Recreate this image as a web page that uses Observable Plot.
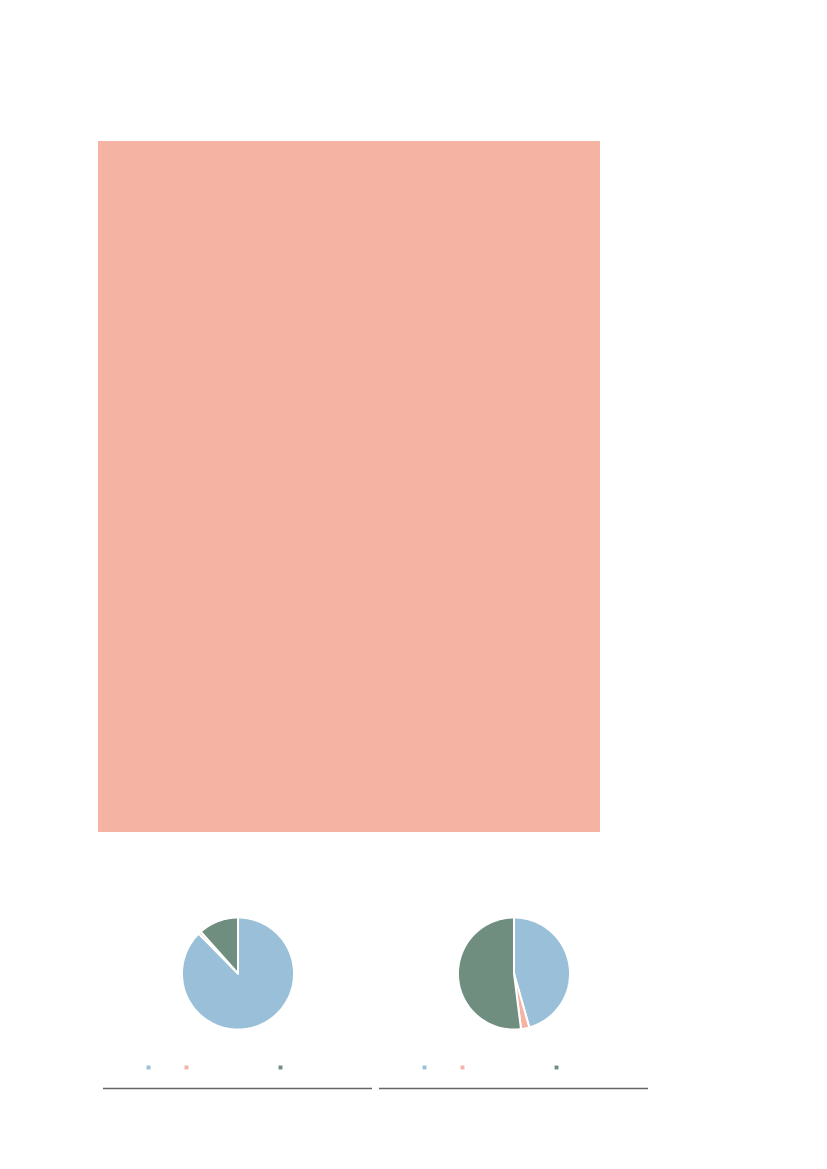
<!DOCTYPE html>
<html><head><meta charset="utf-8">
<script src="https://cdn.jsdelivr.net/npm/d3@7"></script>
<script src="https://cdn.jsdelivr.net/npm/@observablehq/plot@0.6"></script>
<style>
body{margin:0;background:#fff;width:827px;height:1169px;position:relative;overflow:hidden;font-family:"Liberation Sans",sans-serif}
.abs{position:absolute}
</style></head><body>
<div id="big" class="abs" style="left:98px;top:141px"></div>
<div id="pie1" class="abs" style="left:103px;top:913px"></div>
<div id="pie2" class="abs" style="left:379px;top:913px"></div>
<script>
const categories = ["A", "B", "C"];
const colors = ["#99c0d8", "#f5b3a4", "#6f8e80"];
const pie1Values = [87.6, 0.8, 11.6];
const pie2Values = [45.6, 2.4, 52.0];
const bigCategory = ["Total"];
const bigValue = [100];

// Big block
const big = Plot.plot({
  width: 502, height: 691, margin: 0,
  x: {domain: bigCategory, axis: null, padding: 0},
  y: {domain: [0, 100], axis: null},
  marks: [Plot.barY(bigCategory.map((c, i) => ({c, v: bigValue[i]})), {x: "c", y: "v", fill: "#f5b3a4", inset: 0})]
});
document.getElementById("big").append(big);

function pieData(values) {
  const arcs = d3.pie().sort(null)(values);
  const pts = [];
  arcs.forEach((a, i) => {
    const cat = categories[i];
    pts.push({cat, x: 0, y: 0});
    const n = Math.max(2, Math.ceil((a.endAngle - a.startAngle) / (Math.PI / 180)));
    for (let k = 0; k <= n; k++) {
      const t = a.startAngle + (a.endAngle - a.startAngle) * k / n;
      pts.push({cat, x: Math.sin(t), y: Math.cos(t)});
    }
    pts.push({cat, x: 0, y: 0});
  });
  return pts;
}

const legendX = [-1.598, -0.920, 0.759];
function piePlot(values) {
  const W = 269, H = 177, R = 56;
  const cx = 134.5, cy = 60;
  return Plot.plot({
    width: W, height: H, margin: 0,
    x: {domain: [-cx / R, (W - cx) / R], axis: null},
    y: {domain: [-(H - cy) / R, cy / R], axis: null},
    color: {domain: categories, range: colors},
    marks: [
      Plot.line(pieData(values), {x: "x", y: "y", z: "cat", fill: "cat", stroke: "white", strokeWidth: 2, strokeLinejoin: "miter"}),
      Plot.dot(categories.map((c, i) => ({c, x: legendX[i]})), {x: "x", y: -94 / R, fill: "c", symbol: "square", r: 2.2}),
      Plot.ruleY([-(115 / R)], {stroke: "#666", strokeWidth: 1.5})
    ]
  });
}
document.getElementById("pie1").append(piePlot(pie1Values));
document.getElementById("pie2").append(piePlot(pie2Values));
</script>
</body></html>
